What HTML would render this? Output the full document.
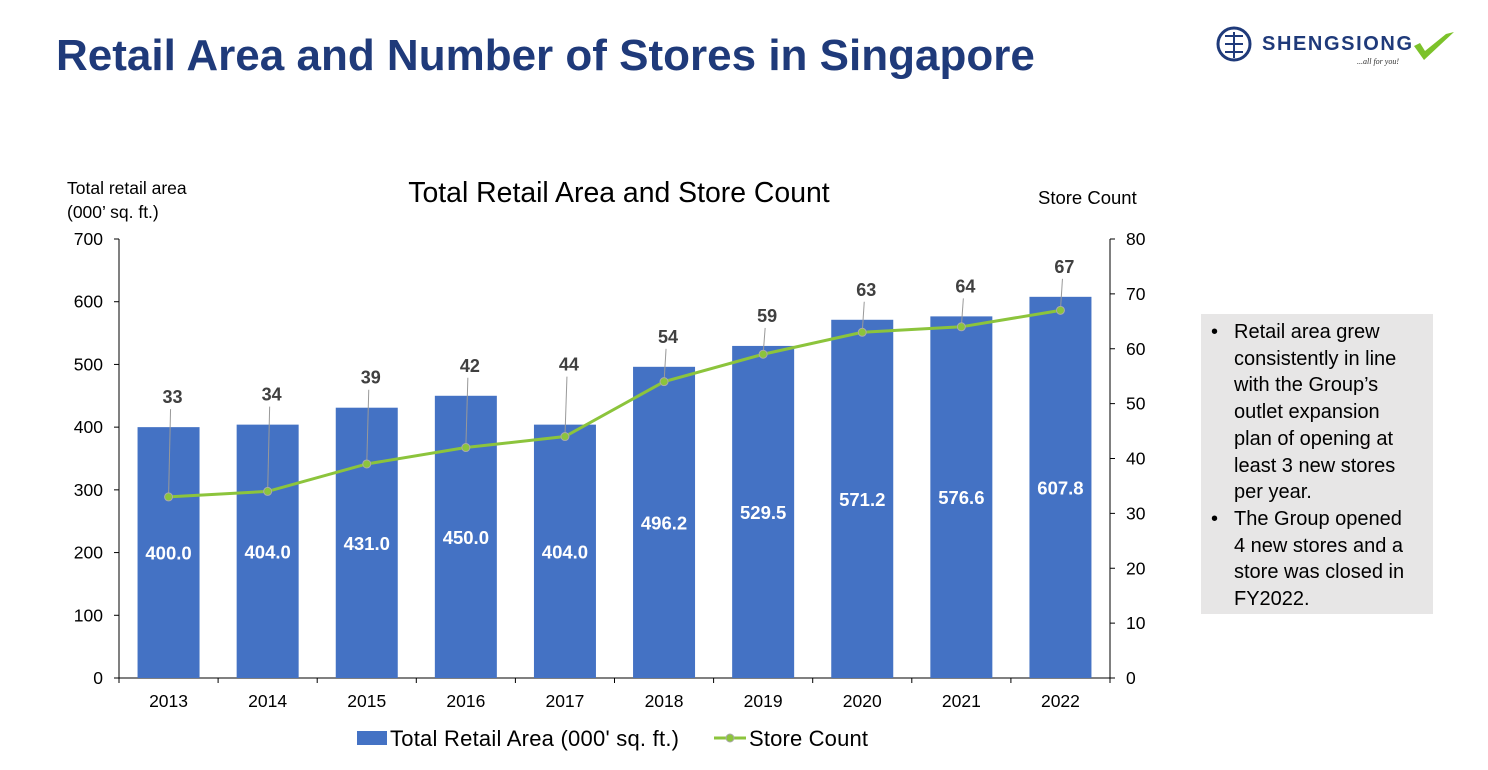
<!DOCTYPE html>
<html><head><meta charset="utf-8"><style>
body{margin:0;width:1488px;height:770px;background:#fff;font-family:"Liberation Sans",Arial,sans-serif;position:relative;overflow:hidden}
.t{position:absolute}
</style></head><body>
<div class="t" style="left:56px;top:31px;font-size:44px;font-weight:bold;color:#1f3a7a;white-space:nowrap">Retail Area and Number of Stores in Singapore</div>
<div class="t" style="left:1214px;top:24px;width:250px;height:44px">
<svg width="250" height="44"><circle cx="20" cy="20" r="16" fill="none" stroke="#1f3a7a" stroke-width="3"/><path d="M11 12h18M11 20h18M11 28h18M20 8v26" stroke="#1f3a7a" stroke-width="2"/>
<text x="48" y="26" font-family="Liberation Sans" font-weight="bold" font-size="20" fill="#1f3a7a" textLength="150">SHENGSIONG</text>
<text x="143" y="40" font-family="Liberation Serif" font-style="italic" font-size="8" fill="#333">...all for you!</text>
<path d="M200 22l10 14 30-28-8 2-21 17-5-8z" fill="#7cc22a"/></svg></div>
<div class="t" style="left:1201px;top:314px;width:232px;height:300px;background:#e7e6e6"></div>
<div class="t" style="left:1211px;top:319px;width:220px;font-size:20px;line-height:26.7px;color:#000;white-space:nowrap">
<div style="position:relative;padding-left:23px"><span style="position:absolute;left:0">•</span>Retail area grew<br>consistently in line<br>with the Group’s<br>outlet expansion<br>plan of opening at<br>least 3 new stores<br>per year.</div>
<div style="position:relative;padding-left:23px"><span style="position:absolute;left:0">•</span>The Group opened<br>4 new stores and a<br>store was closed in<br>FY2022.</div></div>
<svg id="c" class="t" style="left:0;top:0" width="1488" height="770"></svg>
<script>
const years=["2013","2014","2015","2016","2017","2018","2019","2020","2021","2022"];
const area=[400.0,404.0,431.0,450.0,404.0,496.2,529.5,571.2,576.6,607.8];
const stores=[33,34,39,42,44,54,59,63,64,67];
const leftTicks=[0,100,200,300,400,500,600,700];
const rightTicks=[0,10,20,30,40,50,60,70,80];
const svg=document.getElementById('c');const NS='http://www.w3.org/2000/svg';
function el(t,a,txt){const e=document.createElementNS(NS,t);for(const k in a)e.setAttribute(k,a[k]);if(txt!==undefined)e.textContent=txt;svg.appendChild(e);return e;}
const X0=119,X1=1110,Y0=678,Y1=239,step=(X1-X0)/years.length;
const yL=v=>Y0-(v/700)*(Y0-Y1), yR=v=>Y0-(v/80)*(Y0-Y1), xc=i=>X0+step*(i+0.5);
let e;
e=el('text',{x:619,y:202,'font-size':28.4,'text-anchor':'middle',fill:'#000'},'Total Retail Area and Store Count');


e=el('text',{x:67,y:194,'font-size':17.5,fill:'#000'},'Total retail area');


el('text',{x:67,y:218,'font-size':17.5,fill:'#000'},'(000’ sq. ft.)');
e=el('text',{x:1038,y:204,'font-size':18.5,fill:'#000'},'Store Count');


el('line',{x1:X0,y1:Y1,x2:X0,y2:Y0,stroke:'#000'});
el('line',{x1:X1,y1:Y1,x2:X1,y2:Y0,stroke:'#000'});
el('line',{x1:X0,y1:Y0,x2:X1,y2:Y0,stroke:'#000'});
leftTicks.forEach(v=>{el('line',{x1:X0-5,y1:yL(v),x2:X0,y2:yL(v),stroke:'#000'});
e=el('text',{x:103,y:yL(v)+6,'font-size':17.5,'text-anchor':'end'},v);

});
rightTicks.forEach(v=>{el('line',{x1:X1,y1:yR(v),x2:X1+5,y2:yR(v),stroke:'#000'});
e=el('text',{x:1126,y:yR(v)+6,'font-size':17.5},v);

});
for(let i=0;i<=years.length;i++)el('line',{x1:X0+step*i,y1:Y0,x2:X0+step*i,y2:Y0+5,stroke:'#000'});
years.forEach((y,i)=>{
e=el('rect',{x:xc(i)-31,y:yL(area[i]),width:62,height:Y0-yL(area[i]),fill:'#4472c4'});


e=el('text',{x:xc(i),y:(yL(area[i])+Y0)/2+7,'font-size':18.5,'font-weight':'bold','text-anchor':'middle',fill:'#fff'},area[i].toFixed(1));


e=el('text',{x:xc(i),y:707,'font-size':17.5,'text-anchor':'middle'},y);


});
years.forEach((y,i)=>{
const ly=Math.min(yL(area[i]),yR(stores[i]))-24-(i===4?30:0);
el('line',{x1:xc(i)+2,y1:ly+6,x2:xc(i),y2:yR(stores[i]),stroke:'#999','stroke-width':1});
e=el('text',{x:xc(i)+4,y:ly,'font-size':18,'font-weight':'bold','text-anchor':'middle',fill:'#404040'},stores[i]);


});
e=el('polyline',{points:stores.map((s,i)=>xc(i)+','+yR(s)).join(' '),fill:'none',stroke:'#8cc43c','stroke-width':3});


stores.forEach((s,i)=>{e=el('circle',{cx:xc(i),cy:yR(s),r:4,fill:'#8cc43c',stroke:'#aaa'});

});
e=el('rect',{x:357,y:731,width:30,height:14,fill:'#4472c4'});


el('text',{x:390,y:746,'font-size':22,textLength:289},"Total Retail Area (000' sq. ft.)");
e=el('line',{x1:714,y1:738,x2:746,y2:738,stroke:'#8cc43c','stroke-width':3});


el('circle',{cx:730,cy:738,r:4,fill:'#8cc43c',stroke:'#aaa'});
el('text',{x:749,y:746,'font-size':22,textLength:119},'Store Count');
</script>
</body></html>
